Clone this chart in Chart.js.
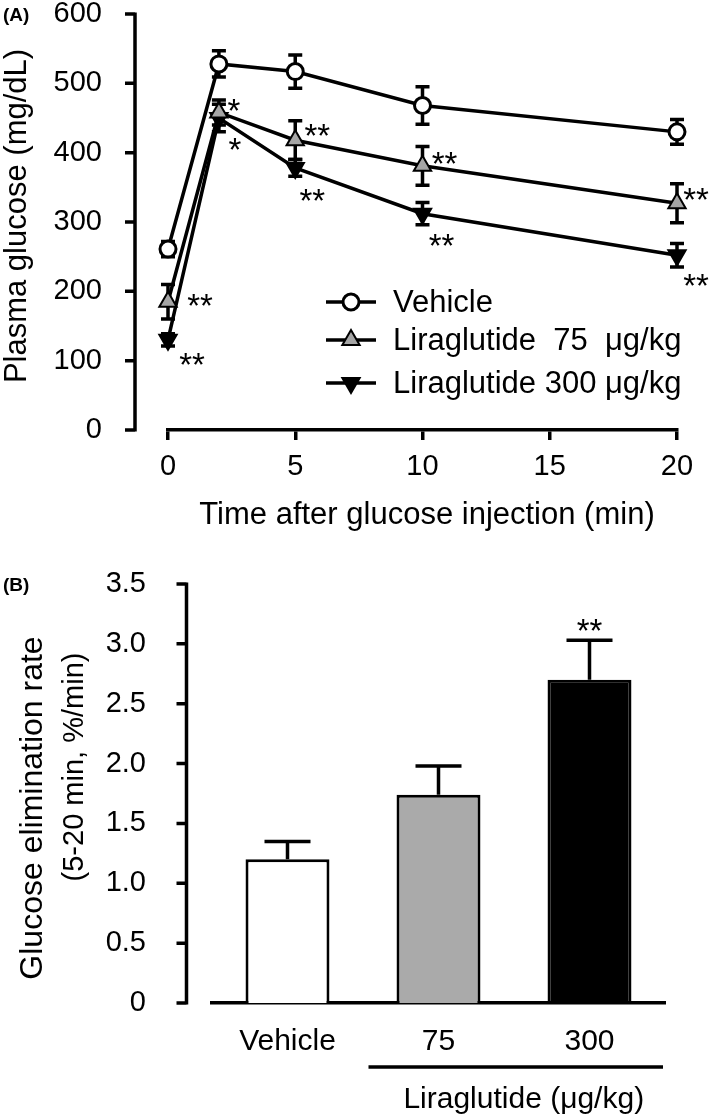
<!DOCTYPE html>
<html>
<head>
<meta charset="utf-8">
<script src="https://cdn.jsdelivr.net/npm/chart.js@4.4.1/dist/chart.umd.min.js"></script>
<style>
    html, body { margin: 0; padding: 0; background: #fff; }
    #wrapA { position: absolute; left: 0; top: 0; width: 709px; height: 560px; }
    #wrapB { position: absolute; left: 0; top: 560px; width: 709px; height: 557px; }
</style>
</head>
<body>
<div id="wrapA"><canvas id="curveChart"></canvas></div>
<div id="wrapB"><canvas id="rateChart"></canvas></div>
<script>
// (A) plasma glucose after glucose injection
const timePoints = [0, 2, 5, 10, 20];
const vehicleMean = [261, 528, 517, 468, 430];
const vehicleSem = [11, 19, 24, 27, 18];
const lira75Mean = [185, 458, 418, 381, 327];
const lira75Sem = [25, 18, 28, 28, 28];
const lira300Mean = [130, 450, 378, 312, 252];
const lira300Sem = [9, 20, 12, 16, 17];
const lira75Sig = ["**", "*", "**", "**", "**"];
const lira300Sig = ["**", "*", "**", "**", "**"];
const glucoseTicks = [0, 100, 200, 300, 400, 500, 600];
const timeTicks = [0, 5, 10, 15, 20];

// (B) glucose elimination rate
const groups = ["Vehicle", "75", "300"];
const rateMean = [1.20, 1.74, 2.70];
const rateSem = [0.15, 0.24, 0.33];
const rateSig = ["", "", "**"];
const rateTickLabels = ["0", "0.5", "1.0", "1.5", "2.0", "2.5", "3.0", "3.5"];

const FONT = "'Liberation Sans', Arial, sans-serif";
Chart.defaults.font.family = FONT;
Chart.defaults.color = "#000";

// where the asterisks sit relative to their point (px)
const sigOffsets = [
    [[32, -4], [15, -9], [22, -12], [22, -10], [19, -11]],
    [[24, 17], [16, 24], [17, 25], [19, 24], [19, 23]]
];

function drawMarker(ctx, ds, cx, cy) {
    const r = ds.pointRadius;
    ctx.save();
    ctx.fillStyle = ds.pointBackgroundColor;
    ctx.strokeStyle = "#000";
    ctx.lineWidth = ds.pointBorderWidth;
    ctx.beginPath();
    if (ds.pointStyle === "circle") {
        ctx.arc(cx, cy, r, 0, Math.PI * 2);
    } else {
        const s = ds.pointRotation === 180 ? -1 : 1;
        ctx.moveTo(cx, cy - s * r);
        ctx.lineTo(cx + r * 0.866, cy + s * r / 2);
        ctx.lineTo(cx - r * 0.866, cy + s * r / 2);
        ctx.closePath();
    }
    ctx.fill();
    ctx.stroke();
    ctx.restore();
}

function drawYAxis(ctx, scale, axisX, tickValues) {
    ctx.save();
    ctx.strokeStyle = "#000";
    ctx.lineWidth = 3.5;
    ctx.beginPath();
    ctx.moveTo(axisX, scale.getPixelForValue(scale.max) - 1.5);
    ctx.lineTo(axisX, scale.getPixelForValue(scale.min) + 1.5);
    tickValues.forEach(v => {
        const py = scale.getPixelForValue(v);
        ctx.moveTo(axisX - 10, py);
        ctx.lineTo(axisX, py);
    });
    ctx.stroke();
    ctx.restore();
}

function rotatedText(ctx, text, x, y, size) {
    ctx.save();
    ctx.translate(x, y);
    ctx.rotate(-Math.PI / 2);
    ctx.font = `${size}px ${FONT}`;
    ctx.textAlign = "center";
    ctx.textBaseline = "alphabetic";
    ctx.fillStyle = "#000";
    ctx.fillText(text, 0, 0);
    ctx.restore();
}

const curveExtras = {
    id: "curveExtras",
    beforeDatasetsDraw(chart) {
        const { ctx, scales: { x, y } } = chart;
        ctx.save();
        ctx.strokeStyle = "#000";
        ctx.lineWidth = 3.5;
        chart.data.datasets.forEach(ds => {
            ds.data.forEach((p, i) => {
                const px = x.getPixelForValue(p.x);
                const top = y.getPixelForValue(p.y + ds.sem[i]);
                const bot = y.getPixelForValue(p.y - ds.sem[i]);
                ctx.beginPath();
                ctx.moveTo(px, top); ctx.lineTo(px, bot);
                ctx.moveTo(px - 7, top); ctx.lineTo(px + 7, top);
                ctx.moveTo(px - 7, bot); ctx.lineTo(px + 7, bot);
                ctx.stroke();
            });
        });
        ctx.restore();
    },
    afterDraw(chart) {
        const { ctx, scales: { x, y }, chartArea } = chart;
        drawYAxis(ctx, y, chartArea.left - 33, glucoseTicks);

        // asterisks
        ctx.save();
        ctx.font = `33px ${FONT}`;
        ctx.textAlign = "center";
        ctx.textBaseline = "alphabetic";
        ctx.fillStyle = "#000";
        chart.data.datasets.forEach((ds, d) => {
            if (!ds.sig) return;
            ds.data.forEach((p, i) => {
                const off = sigOffsets[d - 1][i];
                ctx.fillText(ds.sig[i], x.getPixelForValue(p.x) + off[0], y.getPixelForValue(p.y) + off[1] + 19);
            });
        });
        ctx.restore();

        // legend
        const legendY = [302, 340, 383];
        ctx.save();
        ctx.font = `31px ${FONT}`;
        ctx.textBaseline = "middle";
        ctx.fillStyle = "#000";
        chart.data.datasets.forEach((ds, d) => {
            const ly = legendY[d];
            ctx.strokeStyle = "#000";
            ctx.lineWidth = 3.5;
            ctx.beginPath();
            ctx.moveTo(326, ly); ctx.lineTo(376, ly);
            ctx.stroke();
            drawMarker(ctx, ds, 351, ly);
            ctx.fillText(ds.label, 393, ly + 1);
        });
        ctx.restore();

        // axis titles
        ctx.save();
        ctx.font = `31px ${FONT}`;
        ctx.textAlign = "center";
        ctx.fillStyle = "#000";
        ctx.fillText("Time after glucose injection (min)", 427, 524);
        ctx.font = "bold 19px " + FONT;
        ctx.textAlign = "left";
        ctx.fillText("(A)", 3, 21);
        ctx.restore();
        rotatedText(ctx, "Plasma glucose (mg/dL)", 26, 216, 31);
    }
};

new Chart(document.getElementById("curveChart"), {
    type: "line",
    data: {
        datasets: [
            {
                label: "Vehicle",
                data: timePoints.map((t, i) => ({ x: t, y: vehicleMean[i] })),
                sem: vehicleSem,
                borderColor: "#000",
                borderWidth: 3.5,
                pointStyle: "circle",
                pointRadius: 8,
                pointBackgroundColor: "#fff",
                pointBorderColor: "#000",
                pointBorderWidth: 3,
                clip: false
            },
            {
                label: "Liraglutide  75  \u03bcg/kg",
                data: timePoints.map((t, i) => ({ x: t, y: lira75Mean[i] })),
                sem: lira75Sem,
                sig: lira75Sig,
                borderColor: "#000",
                borderWidth: 3.5,
                pointStyle: "triangle",
                pointRadius: 10,
                pointBackgroundColor: "#a6a6a6",
                pointBorderColor: "#000",
                pointBorderWidth: 2,
                clip: false
            },
            {
                label: "Liraglutide 300 \u03bcg/kg",
                data: timePoints.map((t, i) => ({ x: t, y: lira300Mean[i] })),
                sem: lira300Sem,
                sig: lira300Sig,
                borderColor: "#000",
                borderWidth: 3.5,
                pointStyle: "triangle",
                pointRotation: 180,
                pointRadius: 10,
                pointBackgroundColor: "#000",
                pointBorderColor: "#000",
                pointBorderWidth: 2,
                clip: false
            }
        ]
    },
    options: {
        responsive: true,
        maintainAspectRatio: false,
        animation: false,
        layout: { padding: { left: 0, top: 14, right: 32, bottom: 29 } },
        plugins: { legend: { display: false }, tooltip: { enabled: false } },
        scales: {
            x: {
                type: "linear",
                min: 0,
                max: 20,
                afterBuildTicks: s => { s.ticks = timeTicks.map(v => ({ value: v })); },
                grid: { display: true, drawOnChartArea: false, drawTicks: true, tickLength: 10, color: "#000", lineWidth: 3.5 },
                border: { display: true, color: "#000", width: 3.5 },
                ticks: { color: "#000", font: { size: 29 }, padding: 10, maxRotation: 0 },
                afterFit: s => { s.height = 101; s.paddingLeft = 0; s.paddingRight = 0; }
            },
            y: {
                type: "linear",
                min: 0,
                max: 600,
                afterBuildTicks: s => { s.ticks = glucoseTicks.map(v => ({ value: v })); },
                grid: { display: false },
                border: { display: false },
                ticks: { color: "#000", font: { size: 29 }, padding: 58 },
                afterFit: s => { s.width = 168; s.paddingTop = 0; s.paddingBottom = 0; }
            }
        }
    },
    plugins: [curveExtras]
});

const rateExtras = {
    id: "rateExtras",
    afterDatasetsDraw(chart) {
        const { ctx, scales: { x, y }, chartArea } = chart;
        drawYAxis(ctx, y, chartArea.left - 25.5, rateTickLabels.map(Number));

        const meta = chart.getDatasetMeta(0);
        ctx.save();
        ctx.strokeStyle = "#000";
        ctx.lineWidth = 3.5;
        ctx.fillStyle = "#000";
        ctx.textAlign = "center";
        meta.data.forEach((bar, i) => {
            const top = y.getPixelForValue(rateMean[i] + rateSem[i]);
            ctx.beginPath();
            ctx.moveTo(bar.x, bar.y);
            ctx.lineTo(bar.x, top);
            ctx.moveTo(bar.x - 23, top);
            ctx.lineTo(bar.x + 23, top);
            ctx.stroke();
            ctx.font = `33px ${FONT}`;
            if (rateSig[i]) ctx.fillText(rateSig[i], bar.x, top + 2);
        });

        // Liraglutide bracket line and label
        const x1 = x.getPixelForValue(1) - 70;
        const x2 = chartArea.right - 2;
        ctx.beginPath();
        ctx.moveTo(x1, 507);
        ctx.lineTo(x2, 507);
        ctx.stroke();
        ctx.font = `30px ${FONT}`;
        ctx.fillText("Liraglutide (\u03bcg/kg)", (x1 + x2) / 2 + 8, 548);

        ctx.font = "bold 19px " + FONT;
        ctx.textAlign = "left";
        ctx.fillText("(B)", 3, 31);
        ctx.restore();

        rotatedText(ctx, "Glucose elimination rate", 42, 248, 32);
        rotatedText(ctx, "(5-20 min, %/min)", 83, 207, 29);
    }
};

new Chart(document.getElementById("rateChart"), {
    type: "bar",
    data: {
        labels: groups,
        datasets: [{
            data: rateMean,
            backgroundColor: ["#ffffff", "#aaaaaa", "#000000"],
            borderColor: "#000",
            borderWidth: 3,
            barPercentage: 0.556,
            categoryPercentage: 1
        }]
    },
    options: {
        responsive: true,
        maintainAspectRatio: false,
        animation: false,
        layout: { padding: { left: 0, top: 24, right: 44, bottom: 0 } },
        plugins: { legend: { display: false }, tooltip: { enabled: false } },
        scales: {
            x: {
                type: "category",
                offset: true,
                grid: { display: false },
                border: { display: true, color: "#000", width: 3.5 },
                ticks: { color: "#000", font: { size: 30 }, padding: 13, maxRotation: 0 },
                afterFit: s => { s.height = 114; s.paddingLeft = 0; s.paddingRight = 0; }
            },
            y: {
                type: "linear",
                min: 0,
                max: 3.5,
                afterBuildTicks: s => { s.ticks = rateTickLabels.map(l => ({ value: Number(l) })); },
                grid: { display: false },
                border: { display: false },
                ticks: { color: "#000", font: { size: 29 }, padding: 58, callback: (v, i) => rateTickLabels[i] },
                afterFit: s => { s.width = 212; s.paddingTop = 0; s.paddingBottom = 0; }
            }
        }
    },
    plugins: [rateExtras]
});
</script>
</body>
</html>
